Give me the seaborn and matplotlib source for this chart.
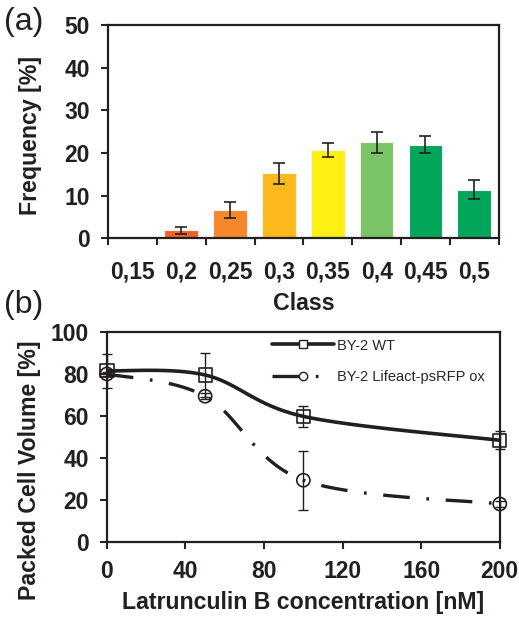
import numpy as np
import pandas as pd
import matplotlib
matplotlib.use("Agg")
import matplotlib.pyplot as plt
import seaborn as sns
from matplotlib.lines import Line2D

# ---- data ----
classes = ["0,15", "0,2", "0,25", "0,3", "0,35", "0,4", "0,45", "0,5"]
freq = [0.0, 1.8, 6.6, 15.2, 20.7, 22.5, 21.9, 11.4]
freq_err = [0.0, 0.85, 1.8, 2.5, 1.6, 2.4, 2.0, 2.2]
bar_colors = ["#FFFFFF", "#F1612A", "#F6872A", "#FDB81C", "#FFF014",
              "#7BC465", "#00A65A", "#00A65A"]

conc = [0, 50, 100, 200]
wt = [81.5, 79.5, 59.8, 48.4]
wt_err = [8.0, 10.5, 5.0, 4.2]
lifeact = [80.0, 69.4, 29.4, 18.1]
lifeact_err = [1.0, 1.5, 14.0, 1.5]

sns.set_theme(style="white")
plt.rcParams["font.family"] = ["Liberation Sans", "DejaVu Sans"]

INK = "#231F20"
TICK_FS = 16.5
LAB_FS = 16.7

fig = plt.figure(figsize=(5.19, 6.17), dpi=100)

# ---------- panel (a) ----------
ax1 = fig.add_axes([0.208, 0.614, 0.753, 0.345])
df = pd.DataFrame({"Class": classes, "Frequency": freq})
sns.barplot(data=df, x="Class", y="Frequency", hue="Class",
            palette=bar_colors, legend=False, width=0.69, ax=ax1,
            saturation=1, edgecolor="#f2f2f2", linewidth=0.8)
xs = np.arange(len(classes))
mask = np.array(freq) > 0
ax1.errorbar(xs[mask], np.array(freq)[mask], yerr=np.array(freq_err)[mask],
             fmt="none", ecolor="#222222", elinewidth=1.2, capsize=4, capthick=1.2)
ax1.set_xlim(-0.5, len(classes) - 0.5)
ax1.set_ylim(0, 50)
ax1.set_yticks([0, 10, 20, 30, 40, 50])
ax1.set_xticks(np.arange(len(classes) + 1) - 0.5)
ax1.set_xticklabels([])
ax1.set_xticks(xs, minor=True)
ax1.set_xticklabels(classes, minor=True)
ax1.tick_params(axis="x", which="minor", length=0, pad=16)
ax1.tick_params(axis="x", which="major", length=5, width=1.5, direction="out",
                bottom=True)
ax1.tick_params(axis="y", length=5, width=1.5, direction="out", left=True, pad=8)
for lab in ax1.get_xticklabels(minor=True) + ax1.get_yticklabels():
    lab.set_fontsize(TICK_FS)
    lab.set_fontweight("bold")
    lab.set_color(INK)
ax1.set_xlabel("Class", fontsize=LAB_FS, fontweight="bold", color=INK, labelpad=6)
ax1.set_ylabel("Frequency [%]", fontsize=LAB_FS, fontweight="bold", color=INK)
ax1.yaxis.set_label_coords(-0.168, 0.484)
for s in ax1.spines.values():
    s.set_linewidth(1.6)
    s.set_color(INK)
    s.set_visible(True)
fig.text(0.008, 0.964, "(a)", fontsize=23, color=INK, va="center")

# ---------- panel (b) ----------
ax2 = fig.add_axes([0.206, 0.1216, 0.757, 0.3404])


def smooth(x, y, n=40):
    x = np.asarray(x, float)
    y = np.asarray(y, float)
    P = np.column_stack([x, y])
    Pext = np.vstack([P[0], P, P[-1]])
    out = []
    t = np.linspace(0, 1, n)[:, None]
    for i in range(len(P) - 1):
        p0, p1, p2, p3 = Pext[i], Pext[i + 1], Pext[i + 2], Pext[i + 3]
        c1 = p1 + (p2 - p0) / 6.0
        c2 = p2 - (p3 - p1) / 6.0
        seg = ((1 - t) ** 3) * p1 + 3 * ((1 - t) ** 2) * t * c1 + \
              3 * (1 - t) * t ** 2 * c2 + t ** 3 * p2
        out.append(seg if i == 0 else seg[1:])
    out = np.vstack(out)
    return out[:, 0], out[:, 1]


DASH = (8, 5, 0.8, 5)
sx, sy = smooth(conc, wt)
ax2.plot(sx, sy, color=INK, lw=2.6, zorder=2)
lx, ly = smooth(conc, lifeact)
ax2.plot(lx, ly, color=INK, lw=2.4, dashes=DASH, zorder=2)

ax2.errorbar(conc, wt, yerr=wt_err, fmt="none", ecolor=INK,
             elinewidth=1.0, capsize=3.5, capthick=1.0, zorder=3, clip_on=False)
ax2.errorbar(conc, lifeact, yerr=lifeact_err, fmt="none", ecolor=INK,
             elinewidth=1.0, capsize=3.5, capthick=1.0, zorder=3, clip_on=False)
sns.scatterplot(x=conc, y=wt, marker="s", s=90, facecolor="none",
                edgecolor=INK, linewidth=1.2, ax=ax2, zorder=4, clip_on=False)
sns.scatterplot(x=conc, y=lifeact, marker="o", s=90, facecolor="none",
                edgecolor=INK, linewidth=1.2, ax=ax2, zorder=4, clip_on=False)

h1 = Line2D([], [], color=INK, lw=2.6, marker="s", markersize=6,
            markerfacecolor="white", markeredgecolor=INK, markeredgewidth=1)
h2 = Line2D([], [], color=INK, lw=2.4, marker="o", markersize=6,
            dashes=DASH,
            markerfacecolor="white", markeredgecolor=INK, markeredgewidth=1)
ax2.legend([h1, h2], ["BY-2 WT", "BY-2 Lifeact-psRFP ox"], loc="upper right",
           frameon=False, fontsize=10.5, handlelength=4.3, handletextpad=0.2,
           labelspacing=1.2, bbox_to_anchor=(0.985, 1.01), borderaxespad=0.2)

ax2.set_xlim(0, 200)
ax2.set_ylim(0, 100)
ax2.set_xticks([0, 40, 80, 120, 160, 200])
ax2.set_yticks([0, 20, 40, 60, 80, 100])
ax2.tick_params(axis="both", length=5, width=1.5, direction="out",
                bottom=True, left=True)
ax2.tick_params(axis="x", pad=8)
ax2.tick_params(axis="y", pad=8)
for lab in ax2.get_xticklabels() + ax2.get_yticklabels():
    lab.set_fontsize(TICK_FS)
    lab.set_fontweight("bold")
    lab.set_color(INK)
ax2.set_xlabel("Latrunculin B concentration [nM]", fontsize=LAB_FS,
               fontweight="bold", color=INK, labelpad=6)
ax2.set_ylabel("Packed Cell Volume [%]", fontsize=LAB_FS, fontweight="bold",
               color=INK)
ax2.yaxis.set_label_coords(-0.167, 0.343)
for s in ax2.spines.values():
    s.set_linewidth(1.6)
    s.set_color(INK)
    s.set_visible(True)
fig.text(0.008, 0.506, "(b)", fontsize=23, color=INK, va="center")

fig.savefig("out.png", dpi=100)
